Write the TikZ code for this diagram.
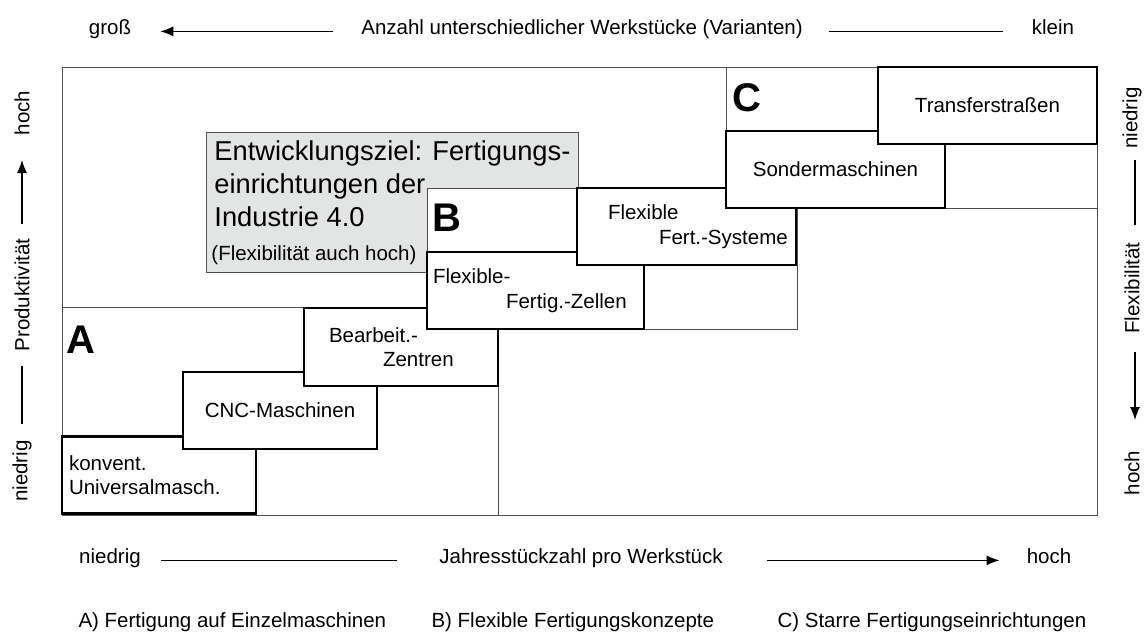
\documentclass[tikz,border=0pt]{standalone}
\usepackage{fontspec}
\setmainfont{Liberation Sans}
\usepackage{xcolor}
\usepackage{tikz}
\usetikzlibrary{positioning,arrows.meta,calc}
\definecolor{zielgrau}{HTML}{E3E4E4}
\definecolor{linie}{HTML}{505050}

\begin{document}
\begin{tikzpicture}[x=1pt,y=-1pt,font=\fontsize{20.5}{24.5}\selectfont,
  pfeil/.style={line width=1.2pt,-{Latex[length=13pt,width=10pt]}},
  strich/.style={line width=1.2pt},
  achse/.style={anchor=base,text height=0.75em,text depth=0.22em,inner sep=2pt},
  bereich/.style={draw=linie,line width=0.9pt},
  mach/.style={draw,line width=2.2pt,fill=white,inner xsep=4pt,inner ysep=0pt,minimum height=77pt},
  buchst/.style={font=\fontsize{40}{40}\selectfont\bfseries,inner sep=0pt,anchor=base west},
  ziel/.style={draw=linie,line width=0.9pt,fill=zielgrau,anchor=north west,inner xsep=0pt,
    minimum width=372pt,minimum height=140pt,align=flush left,font=\fontsize{27.3}{33}\selectfont},
  seite/.style={rotate=90,inner sep=2pt}]
\useasboundingbox (0,0) rectangle (1147,635);

\node[achse] (gross) at (110,34) {groß};
\node[achse] (anzahl) at (582,34) {Anzahl unterschiedlicher Werkstücke (Varianten)};
\node[achse] (klein) at (1053,34) {klein};
\draw[pfeil] ([xshift=-26pt]anzahl.west) -- ([xshift=27pt]gross.east);
\draw[strich] ([xshift=24pt]anzahl.east) -- ([xshift=-27pt]klein.west);

\node[achse] (nied) at (110,563) {niedrig};
\node[achse] (jahr) at (581,563) {Jahresstückzahl pro Werkstück};
\node[achse] (hochx) at (1049,563) {hoch};
\draw[strich] ([xshift=18pt]nied.east) -- ([xshift=-40pt]jahr.west);
\draw[pfeil] ([xshift=42pt]jahr.east) -- ([xshift=-25pt]hochx.west);

\node[anchor=base west] (lA) at (75,627) {A) Fertigung auf Einzelmaschinen};
\node[anchor=base west] (lB) at (428,627) {B) Flexible Fertigungskonzepte};
\node[anchor=base west] (lC) at (774,627) {C) Starre Fertigungseinrichtungen};

\node[seite] (phoch) at (22,113) {hoch};
\node[seite] (prod) at (22,295) {Produktivität};
\node[seite] (pnied) at (22,471) {niedrig};
\coordinate (p1) at (22,160); \coordinate (p2) at (22,224);
\coordinate (p3) at (22,366); \coordinate (p4) at (22,424);
\draw[pfeil] (p2) -- (p1);
\draw[strich] (p3) -- (p4);

\node[seite] (fnied) at (1132,118) {niedrig};
\node[seite] (flex) at (1132,288) {Flexibilität};
\node[seite] (fhoch) at (1132,473) {hoch};
\coordinate (f1) at (1135,160); \coordinate (f2) at (1135,225);
\coordinate (f3) at (1135,352); \coordinate (f4) at (1135,420);
\draw[strich] (f1) -- (f2);
\draw[pfeil] (f3) -- (f4);

\draw[bereich] (62,67) rectangle (1097,515);
\draw[bereich] (62,307) rectangle (498,515);
\draw[bereich] (726,67) rectangle (1097,208);

\node[ziel] (ziel) at (206,132) {Entwicklungsziel: Fertigungs-\\einrichtungen der\\Industrie 4.0\\[1pt]
  {\fontsize{20.5}{33}\selectfont\hspace*{-3pt}(Flexibilität auch hoch)}};

\draw[bereich,fill=white] (427,188) rectangle (797,329);

\node[mach,minimum width=194pt,text width=186pt,align=left] (konv) at (159,475)
  {\hspace*{3pt}konvent.\\\hspace*{3pt}Universalmasch.};
\node[mach,minimum width=194pt] (cnc) at (280,410.5) {CNC-Maschinen};
\node[mach,minimum width=194pt,minimum height=78pt,text width=186pt,align=left] (bearb) at (401,347)
  {\hspace*{21pt}Bearbeit.-\\\hspace*{75pt}Zentren};
\node[mach,minimum width=217pt,text width=209pt,align=left] (zellen) at (535.5,290.5)
  {\hspace*{2pt}Flexible-\\\hspace*{75pt}Fertig.-Zellen};
\node[mach,minimum width=219pt,text width=211pt,align=left] (systeme) at (686.5,226.5)
  {\hspace*{27pt}Flexible\\\hspace*{78pt}Fert.-Systeme};
\node[mach,minimum width=219pt] (sonder) at (835.5,169.5) {Sondermaschinen};
\node[mach,minimum width=219pt] (transfer) at (987.5,105.5) {Transferstraßen};

\node[buchst] (ba) at (66,353) {A};
\node[buchst] (bb) at (432,231) {B};
\node[buchst] (bc) at (732,111) {C};
\end{tikzpicture}
\end{document}
